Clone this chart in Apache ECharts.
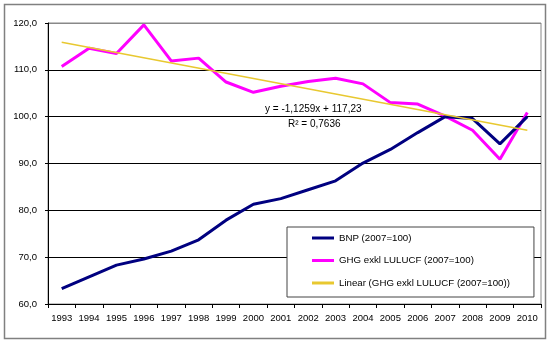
<!DOCTYPE html>
<html>
<head>
<meta charset="utf-8">
<script src="https://cdn.jsdelivr.net/npm/echarts@6/dist/echarts.min.js"></script>
<style>html,body{margin:0;padding:0;background:#fff}#c{width:550px;height:364px}</style>
</head>
<body>
<div id="c"></div>
<script>
const years = ['1993','1994','1995','1996','1997','1998','1999','2000','2001','2002','2003','2004','2005','2006','2007','2008','2009','2010'];
const bnp = [63.3,65.8,68.3,69.6,71.3,73.7,77.9,81.3,82.5,84.4,86.3,90.1,93.0,96.6,100.0,99.6,94.2,100.0];
const ghg = [110.7,114.6,113.5,119.6,111.9,112.5,107.4,105.2,106.5,107.5,108.2,107.0,103.0,102.7,100.1,97.1,90.9,100.9];
const trend = [115.9,null,null,null,null,null,null,null,null,null,null,null,null,null,null,null,null,97.1];
const yTicks = [60,70,80,90,100,110,120];
const seriesNames = ['BNP (2007=100)','GHG exkl LULUCF (2007=100)','Linear (GHG exkl LULUCF (2007=100))'];
const eqText = 'y = -1,1259x + 117,23';
const r2Text = 'R² = 0,7636';

const font = 'Liberation Sans, Arial, sans-serif';
const chart = echarts.init(document.getElementById('c'), null, {renderer:'canvas'});
chart.setOption({
  animation:false,
  backgroundColor:'#fff',
  grid:{left:48, top:23, right:9, bottom:60, show:true, borderColor:'#888', borderWidth:1},
  xAxis:{
    type:'category', data:years, boundaryGap:true,
    axisLine:{lineStyle:{color:'#000', width:1}},
    axisTick:{show:true, length:4, lineStyle:{color:'#000'}},
    axisLabel:{color:'#000', fontFamily:font, fontSize:9.5, margin:9, interval:0},
    splitLine:{show:false}
  },
  yAxis:{
    type:'value', min:yTicks[0], max:yTicks[yTicks.length-1], interval:10,
    axisLine:{show:true, lineStyle:{color:'#000', width:1}},
    axisTick:{show:true, length:3, lineStyle:{color:'#000'}},
    axisLabel:{color:'#000', fontFamily:font, fontSize:9.5, margin:11,
      formatter:v=>v.toFixed(1).replace('.',',')},
    splitLine:{show:true, lineStyle:{color:['#000','#000','#000','#000','#000','#000','#888'], width:1}}
  },
  legend:{
    orient:'vertical', left:287, top:227,
    padding:[5,24,8,25], itemGap:10.5,
    itemWidth:22, itemHeight:3, icon:'rect',
    borderColor:'#444', borderWidth:1, backgroundColor:'#fff',
    textStyle:{color:'#000', fontFamily:font, fontSize:9.7, lineHeight:12},
    data:seriesNames
  },
  series:[
    {name:seriesNames[0], type:'line', data:bnp, symbol:'none', z:3,
     lineStyle:{color:'#000080', width:3}, itemStyle:{color:'#000080'}},
    {name:seriesNames[1], type:'line', data:ghg, symbol:'none', z:2,
     lineStyle:{color:'#ff00ff', width:3}, itemStyle:{color:'#ff00ff'}},
    {name:seriesNames[2], type:'line', data:trend, symbol:'none', connectNulls:true, z:4,
     lineStyle:{color:'#e8c830', width:1.5}, itemStyle:{color:'#e8c830'}}
  ],
  graphic:[
    {type:'rect', shape:{x:4.5, y:4.5, width:541, height:334}, style:{fill:null, stroke:'#808080', lineWidth:1.5}, z:0, silent:true},
    {type:'text', left:265, top:104, style:{text:eqText, fill:'#000', font:'10px ' + font}, z:10},
    {type:'text', left:288, top:119, style:{text:r2Text, fill:'#000', font:'10px ' + font}, z:10}
  ]
});
</script>
</body>
</html>
